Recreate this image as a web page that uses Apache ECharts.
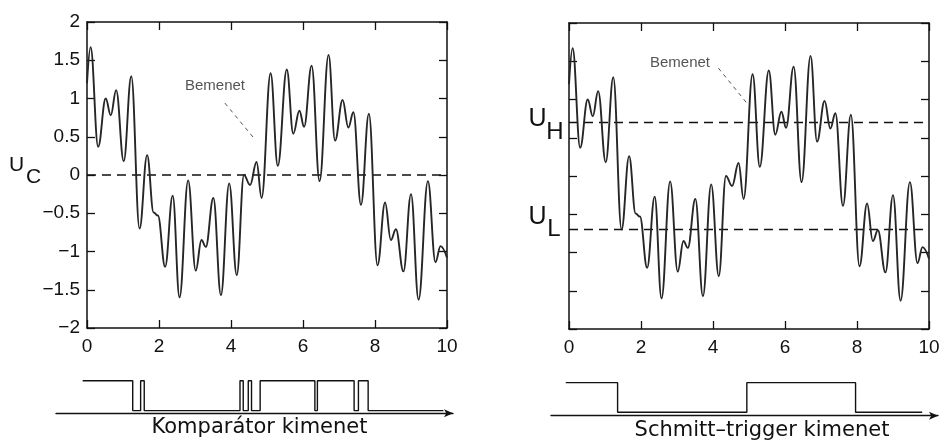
<!DOCTYPE html>
<html><head><meta charset="utf-8">
<script src="https://cdn.jsdelivr.net/npm/echarts@6/dist/echarts.min.js"></script>
<style>html,body{margin:0;padding:0;background:#fff}#c{width:940px;height:446px}</style>
</head><body><div id="c"></div>
<script>
// ---- data ----
const sigX = [0.00,0.10,0.31,0.52,0.66,0.81,1.02,1.23,1.46,1.67,1.85,1.97,2.17,2.38,2.57,2.81,3.02,3.18,3.30,3.51,3.72,3.95,4.16,4.36,4.53,4.71,4.85,5.10,5.30,5.55,5.73,5.90,6.03,6.24,6.46,6.71,6.89,7.10,7.26,7.40,7.61,7.83,8.07,8.28,8.44,8.58,8.79,9.00,9.21,9.47,9.68,9.82,10.00];
const sigY = [1.20,1.67,0.37,1.00,0.78,1.11,0.18,1.29,-0.70,0.26,-0.49,-0.53,-1.20,-0.27,-1.60,-0.07,-1.25,-0.85,-0.94,-0.30,-1.57,-0.11,-1.31,0.00,-0.13,0.17,-0.30,1.33,0.12,1.38,0.54,0.84,0.63,1.43,-0.08,1.57,0.45,0.98,0.62,0.82,-0.39,0.80,-1.18,-0.36,-0.85,-0.71,-1.26,-0.25,-1.63,-0.08,-1.14,-0.93,-1.08];
const xRange = [0, 10];
const yRange = [-2, 2];
const xStep = 2;
const yStep = 0.5;
const comparatorLevel = 0;
const levelH = 0.7;
const levelL = -0.7;
const compEdges  = [-0.12,1.27,1.49,1.59,4.25,4.34,4.48,4.57,4.81,6.33,6.40,7.42,7.54,7.81,9.90];
const compLevels = [1,0,1,0,1,0,1,0,1,0,1,0,1,0,0];
const schEdges  = [-0.09,1.35,4.94,7.96,9.81];
const schLevels = [1,0,1,0,0];
const leaderLeft  = [[3.83,0.94],[4.64,0.48]];
const leaderRight = [[4.15,1.41],[4.98,0.93]];
const inputLabel = 'Bemenet';
const compTitle = 'Komparátor kimenet';
const schTitle = 'Schmitt–trigger kimenet';

// ---- build ----
const zip = (xs, ys) => xs.map((x, i) => [x, ys[i]]);
const signal = zip(sigX, sigY);
const fmt = v => String(v).replace('-', '\u2212');
const ink = '#111';
const F = "'Liberation Sans', Arial, sans-serif";
const FD = "'DejaVu Sans', sans-serif";

function xAx(gi, pos, labels) {
  return {type:'value', gridIndex:gi, position:pos, min:xRange[0], max:xRange[1], interval:xStep,
    axisLine:{show:true, onZero:false, lineStyle:{color:ink, width:1.5}},
    axisTick:{show:true, inside:true, length:8, lineStyle:{color:ink, width:1.3}},
    axisLabel:{show:labels, margin:9, fontSize:19, fontFamily:F, color:ink, formatter:fmt, showMinLabel:true, showMaxLabel:true, hideOverlap:false},
    splitLine:{show:false}};
}
function yAx(gi, pos, labels) {
  return {type:'value', gridIndex:gi, position:pos, min:yRange[0], max:yRange[1], interval:yStep,
    axisLine:{show:true, onZero:false, lineStyle:{color:ink, width:1.5}},
    axisTick:{show:true, inside:true, length:8, lineStyle:{color:ink, width:1.3}},
    axisLabel:{show:labels, margin:7, fontSize:19, fontFamily:F, color:ink, formatter:fmt, showMinLabel:true, showMaxLabel:true, hideOverlap:false},
    splitLine:{show:false}};
}
function outX(gi, mn, mx) {
  return {type:'value', gridIndex:gi, min:mn, max:mx, position:'bottom',
    axisLine:{show:true, onZero:false, symbol:['none','arrow'], symbolSize:[6,9], lineStyle:{color:ink, width:1.4}},
    axisTick:{show:false}, axisLabel:{show:false}, splitLine:{show:false}};
}
function outY(gi, mn, mx) {
  return {type:'value', gridIndex:gi, min:mn, max:mx, show:false, splitLine:{show:false}};
}
const sigStyle = {color:'#262626', width:1.9};
const dashStyle = {color:ink, width:1.5, type:[9,6]};
const leadStyle = {color:'#555', width:1, type:[4,4]};

function lineS(xi, yi, data, style, extra) {
  return Object.assign({type:'line', xAxisIndex:xi, yAxisIndex:yi, data:data, showSymbol:false, symbol:'none', lineStyle:style, silent:true, animation:false}, extra||{});
}

const option = {
  animation:false,
  backgroundColor:'#fff',
  grid:[
    {left:87, top:22, width:360, height:306, outerBoundsMode:'none'},
    {left:569, top:23, width:360, height:306, outerBoundsMode:'none'},
    {left:56, top:377.7, width:397, height:35.6, outerBoundsMode:'none'},
    {left:551, top:379.7, width:387, height:36, outerBoundsMode:'none'}
  ],
  xAxis:[xAx(0,'bottom',true), xAx(0,'top',false), xAx(1,'bottom',true), xAx(1,'top',false),
         outX(2,-0.861,10.167), outX(3,-0.5,10.25)],
  yAxis:[yAx(0,'left',true), yAx(0,'right',false), yAx(1,'left',false), yAx(1,'right',false),
         outY(2,-0.09,1.1), outY(3,-0.115,1.1)],
  series:[
    lineS(0,0,[[xRange[0],comparatorLevel],[xRange[1],comparatorLevel]], dashStyle),
    lineS(0,0,leaderLeft, leadStyle),
    lineS(0,0,signal, sigStyle, {smooth:0.4, smoothMonotone:'x', z:5}),
    lineS(2,2,[[xRange[0],levelH],[xRange[1],levelH]], dashStyle),
    lineS(2,2,[[xRange[0],levelL],[xRange[1],levelL]], dashStyle),
    lineS(2,2,leaderRight, leadStyle),
    lineS(2,2,signal, sigStyle, {smooth:0.4, smoothMonotone:'x', z:5}),
    lineS(4,4,zip(compEdges, compLevels), {color:ink, width:1.4}, {step:'end'}),
    lineS(5,5,zip(schEdges, schLevels), {color:ink, width:1.4}, {step:'end'})
  ],
  graphic:[
    {type:'text', x:215, y:86, style:{text:inputLabel, font:'15px '+F, fill:'#555', textAlign:'center', textVerticalAlign:'middle'}},
    {type:'text', x:680, y:63, style:{text:inputLabel, font:'15px '+F, fill:'#555', textAlign:'center', textVerticalAlign:'middle'}},
    {type:'text', x:16.5, y:165.5, style:{text:'U', font:'21px '+F, fill:ink, textAlign:'center', textVerticalAlign:'middle'}},
    {type:'text', x:33.5, y:177, style:{text:'C', font:'21px '+F, fill:ink, textAlign:'center', textVerticalAlign:'middle'}},
    {type:'text', x:537.5, y:119, style:{text:'U', font:'25px '+F, fill:ink, textAlign:'center', textVerticalAlign:'middle'}},
    {type:'text', x:555, y:132, style:{text:'H', font:'24px '+F, fill:ink, textAlign:'center', textVerticalAlign:'middle'}},
    {type:'text', x:537.5, y:217, style:{text:'U', font:'25px '+F, fill:ink, textAlign:'center', textVerticalAlign:'middle'}},
    {type:'text', x:554, y:229, style:{text:'L', font:'24px '+F, fill:ink, textAlign:'center', textVerticalAlign:'middle'}},
    {type:'text', x:259.5, y:428, style:{text:compTitle, font:'21px '+FD, fill:ink, textAlign:'center', textVerticalAlign:'middle'}},
    {type:'text', x:762, y:431, style:{text:schTitle, font:'21px '+FD, fill:ink, textAlign:'center', textVerticalAlign:'middle'}}
  ]
};
const chart = echarts.init(document.getElementById('c'), null, {renderer:'canvas', width:940, height:446});
chart.setOption(option);
</script>
</body></html>
